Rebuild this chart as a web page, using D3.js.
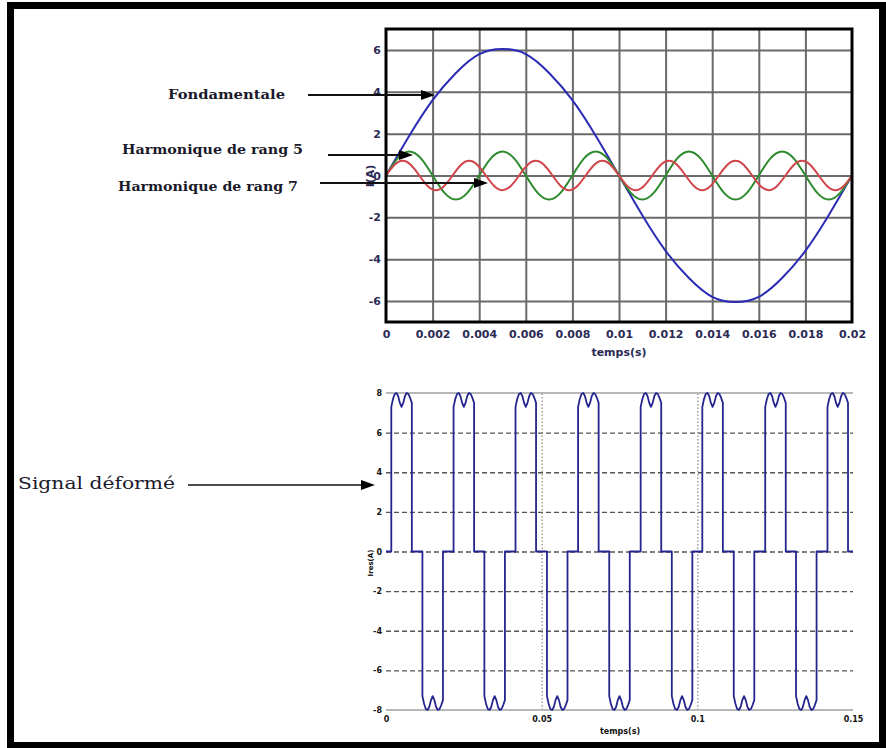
<!DOCTYPE html>
<html>
<head>
<meta charset="utf-8">
<script src="https://cdn.jsdelivr.net/npm/d3@7"></script>
<style>
body { margin: 0; background: #fff; }
svg { display: block; }
</style>
</head>
<body>
<div id="chart"></div>
<script>
// graphe du haut : valeurs (I en A)
var pasFondamentale = 0.001;
var fondamentale = [0, 1.9, 3.6, 4.9, 5.8, 6.05, 5.8, 4.9, 3.6, 1.9, 0,
    -1.9, -3.6, -4.9, -5.8, -6.05, -5.8, -4.9, -3.6, -1.9, 0];

var pasRang5 = 0.0005;
var rang5 = [0, 0.82, 1.15, 0.82, 0, -0.82, -1.15, -0.82,
    0, 0.82, 1.15, 0.82, 0, -0.82, -1.15, -0.82,
    0, 0.82, 1.15, 0.82, 0, -0.82, -1.15, -0.82,
    0, 0.82, 1.15, 0.82, 0, -0.82, -1.15, -0.82,
    0, 0.82, 1.15, 0.82, 0, -0.82, -1.15, -0.82, 0];

var pasRang7 = 0.02 / 56;
var rang7 = [0, 0.5, 0.7, 0.5, 0, -0.5, -0.7, -0.5,
    0, 0.5, 0.7, 0.5, 0, -0.5, -0.7, -0.5,
    0, 0.5, 0.7, 0.5, 0, -0.5, -0.7, -0.5,
    0, 0.5, 0.7, 0.5, 0, -0.5, -0.7, -0.5,
    0, 0.5, 0.7, 0.5, 0, -0.5, -0.7, -0.5,
    0, 0.5, 0.7, 0.5, 0, -0.5, -0.7, -0.5,
    0, 0.5, 0.7, 0.5, 0, -0.5, -0.7, -0.5, 0];

var ticksHautX = [0, 0.002, 0.004, 0.006, 0.008, 0.01, 0.012, 0.014, 0.016, 0.018, 0.02];
var ticksHautY = [-6, -4, -2, 0, 2, 4, 6];

// graphe du bas : signal deforme (impulsions)
var debutsPositifs = [0.0017, 0.0217, 0.0416, 0.0617, 0.0818, 0.1016, 0.1218, 0.1418];
var debutsNegatifs = [0.0117, 0.0316, 0.0517, 0.0717, 0.0918, 0.1117, 0.1317];
var largeurImpulsion = 0.0066;
var formeCrete = [7.3, 7.7, 7.95, 8.0, 7.85, 7.5, 7.3, 7.5, 7.85, 8.0, 7.95, 7.75, 7.5];

var ticksBasX = [0, 0.05, 0.1, 0.15];
var ticksBasY = [-8, -6, -4, -2, 0, 2, 4, 6, 8];
var grilleBasY = [-6, -4, -2, 0, 2, 4, 6];
var grilleBasX = [0.05, 0.1];

var width = 886, height = 748;
var moins = function(d) { return String(d).replace("\u2212", "-"); };

var svg = d3.select("#chart").append("svg")
    .attr("width", width)
    .attr("height", height);

svg.append("rect")
    .attr("width", width).attr("height", height)
    .attr("fill", "#fff");

// cadre noir
svg.append("rect")
    .attr("x", 10.5).attr("y", 5.5)
    .attr("width", 872).attr("height", 740)
    .attr("fill", "none")
    .attr("stroke", "#000")
    .attr("stroke-width", 7);

// ---------- graphe du haut ----------
var xh = d3.scaleLinear().domain([0, 0.02]).range([386, 852]);
var yh = d3.scaleLinear().domain([-7, 7]).range([322, 29]);

var haut = svg.append("g").attr("id", "haut");

haut.append("g")
    .attr("class", "grille")
    .attr("transform", "translate(0,322)")
    .call(d3.axisBottom(xh).tickValues(ticksHautX.slice(1, -1)).tickSize(-293).tickFormat(""))
    .call(function(g) { g.select(".domain").remove(); })
    .selectAll("line")
    .attr("stroke", "#6a6a6a")
    .attr("stroke-width", 2);

haut.append("g")
    .attr("class", "grille")
    .attr("transform", "translate(386,0)")
    .call(d3.axisLeft(yh).tickValues(ticksHautY).tickSize(-466).tickFormat(""))
    .call(function(g) { g.select(".domain").remove(); })
    .selectAll("line")
    .attr("stroke", "#6a6a6a")
    .attr("stroke-width", 2);

var ligne = d3.line().curve(d3.curveNatural);

var courbes = [
    {valeurs: fondamentale, pas: pasFondamentale, couleur: "#2b2bb5"},
    {valeurs: rang5, pas: pasRang5, couleur: "#2e8a2e"},
    {valeurs: rang7, pas: pasRang7, couleur: "#d0454a"}
];

haut.selectAll(".courbe")
    .data(courbes)
    .enter()
    .append("path")
    .attr("class", "courbe")
    .attr("fill", "none")
    .attr("stroke", function(d) { return d.couleur; })
    .attr("stroke-width", 2)
    .attr("d", function(d) {
        return ligne(d.valeurs.map(function(v, i) {
            return [xh(i * d.pas), yh(v)];
        }));
    });

// bordure des axes
haut.append("rect")
    .attr("x", 386).attr("y", 29)
    .attr("width", 466).attr("height", 293)
    .attr("fill", "none")
    .attr("stroke", "#000")
    .attr("stroke-width", 3);

var axeHautX = haut.append("g")
    .attr("transform", "translate(0,322)")
    .call(d3.axisBottom(xh).tickValues(ticksHautX).tickSize(0).tickPadding(8)
        .tickFormat(function(d) { return String(+d.toFixed(3)); }));
axeHautX.select(".domain").remove();

var axeHautY = haut.append("g")
    .attr("transform", "translate(386,0)")
    .call(d3.axisLeft(yh).tickValues(ticksHautY).tickSize(0).tickPadding(5).tickFormat(moins));
axeHautY.select(".domain").remove();

haut.selectAll(".tick text")
    .attr("font-family", "DejaVu Sans")
    .attr("font-weight", "bold")
    .attr("font-size", 11)
    .attr("fill", "#2a2a55");

haut.append("text")
    .text("temps(s)")
    .attr("x", 619).attr("y", 356)
    .attr("text-anchor", "middle")
    .attr("font-family", "DejaVu Sans")
    .attr("font-weight", "bold")
    .attr("font-size", 11)
    .attr("fill", "#2a2a55");

haut.append("text")
    .text("I(A)")
    .attr("transform", "translate(374,176) rotate(-90)")
    .attr("text-anchor", "middle")
    .attr("font-family", "DejaVu Sans")
    .attr("font-weight", "bold")
    .attr("font-size", 11)
    .attr("fill", "#2a2a55");

// ---------- graphe du bas ----------
var xb = d3.scaleLinear().domain([0, 0.15]).range([386, 853]);
var yb = d3.scaleLinear().domain([-8, 8]).range([710, 393]);

var bas = svg.append("g").attr("id", "bas");

bas.append("g")
    .attr("transform", "translate(386,0)")
    .call(d3.axisLeft(yb).tickValues(grilleBasY).tickSize(-467).tickFormat(""))
    .call(function(g) { g.select(".domain").remove(); })
    .selectAll("line")
    .attr("stroke", "#555")
    .attr("stroke-width", 1.3)
    .attr("stroke-dasharray", "5,3");

bas.append("g")
    .attr("transform", "translate(0,710)")
    .call(d3.axisBottom(xb).tickValues(grilleBasX).tickSize(-317).tickFormat(""))
    .call(function(g) { g.select(".domain").remove(); })
    .selectAll("line")
    .attr("stroke", "#888")
    .attr("stroke-width", 1.2)
    .attr("stroke-dasharray", "1.5,2");

bas.selectAll(".bord")
    .data([8, -8])
    .enter()
    .append("line")
    .attr("class", "bord")
    .attr("x1", xb(0)).attr("x2", xb(0.15))
    .attr("y1", function(d) { return yb(d); })
    .attr("y2", function(d) { return yb(d); })
    .attr("stroke", "#b8b8b8")
    .attr("stroke-width", 2);

// construction du signal a partir des impulsions
var impulsions = debutsPositifs.map(function(t) { return {t: t, s: 1}; })
    .concat(debutsNegatifs.map(function(t) { return {t: t, s: -1}; }))
    .sort(function(a, b) { return a.t - b.t; });

var points = [[0, 0]];
impulsions.forEach(function(p) {
    points.push([p.t, 0]);
    formeCrete.forEach(function(v, j) {
        points.push([p.t + largeurImpulsion * j / (formeCrete.length - 1), p.s * v]);
    });
    points.push([p.t + largeurImpulsion, 0]);
});
points.push([0.15, 0]);

bas.append("path")
    .attr("fill", "none")
    .attr("stroke", "#25258f")
    .attr("stroke-width", 1.8)
    .attr("stroke-linejoin", "round")
    .attr("d", d3.line()
        .x(function(d) { return xb(d[0]); })
        .y(function(d) { return yb(d[1]); })(points));

var axeBasX = bas.append("g")
    .attr("transform", "translate(0,710)")
    .call(d3.axisBottom(xb).tickValues(ticksBasX).tickSize(0).tickPadding(6)
        .tickFormat(function(d) { return String(+d.toFixed(2)); }));
axeBasX.select(".domain").remove();

var axeBasY = bas.append("g")
    .attr("transform", "translate(386,0)")
    .call(d3.axisLeft(yb).tickValues(ticksBasY).tickSize(0).tickPadding(4).tickFormat(moins));
axeBasY.select(".domain").remove();

bas.selectAll(".tick text")
    .attr("font-family", "DejaVu Sans")
    .attr("font-weight", "bold")
    .attr("font-size", 8)
    .attr("fill", "#111");

bas.append("text")
    .text("temps(s)")
    .attr("x", 620).attr("y", 734)
    .attr("text-anchor", "middle")
    .attr("font-family", "DejaVu Sans")
    .attr("font-weight", "bold")
    .attr("font-size", 8)
    .attr("fill", "#111");

bas.append("text")
    .text("Ires(A)")
    .attr("transform", "translate(373,563) rotate(-90)")
    .attr("text-anchor", "middle")
    .attr("font-family", "DejaVu Sans")
    .attr("font-weight", "bold")
    .attr("font-size", 7)
    .attr("fill", "#111");

// ---------- annotations ----------
var annotations = [
    {texte: "Fondamentale", x: 168, y: 99, longueur: 117, taille: 12, gras: true},
    {texte: "Harmonique de rang 5", x: 122, y: 154, longueur: 181, taille: 12, gras: true},
    {texte: "Harmonique de rang 7", x: 118, y: 191, longueur: 180, taille: 12, gras: true},
    {texte: "Signal déformé", x: 18, y: 489, longueur: 157, taille: 17, gras: false}
];

svg.selectAll(".annotation")
    .data(annotations)
    .enter()
    .append("text")
    .attr("class", "annotation")
    .text(function(d) { return d.texte; })
    .attr("x", function(d) { return d.x; })
    .attr("y", function(d) { return d.y; })
    .attr("font-family", "DejaVu Serif")
    .attr("font-weight", function(d) { return d.gras ? "bold" : "normal"; })
    .attr("font-size", function(d) { return d.taille; })
    .attr("textLength", function(d) { return d.longueur; })
    .attr("lengthAdjust", "spacingAndGlyphs")
    .attr("fill", "#1a1a2a");

var fleches = [
    {x1: 308, x2: 435, y: 95, epais: 2.2},
    {x1: 328, x2: 413, y: 155, epais: 2.2},
    {x1: 320, x2: 488, y: 183, epais: 2.2},
    {x1: 188, x2: 375, y: 485, epais: 1.5}
];

var fleche = svg.selectAll(".fleche")
    .data(fleches)
    .enter()
    .append("g")
    .attr("class", "fleche");

fleche.append("line")
    .attr("x1", function(d) { return d.x1; })
    .attr("x2", function(d) { return d.x2 - 10; })
    .attr("y1", function(d) { return d.y; })
    .attr("y2", function(d) { return d.y; })
    .attr("stroke", "#111")
    .attr("stroke-width", function(d) { return d.epais; });

fleche.append("path")
    .attr("d", function(d) {
        return "M" + d.x2 + "," + d.y + "L" + (d.x2 - 14) + "," + (d.y - 5) + "L" + (d.x2 - 14) + "," + (d.y + 5) + "Z";
    })
    .attr("fill", "#000");
</script>
</body>
</html>
